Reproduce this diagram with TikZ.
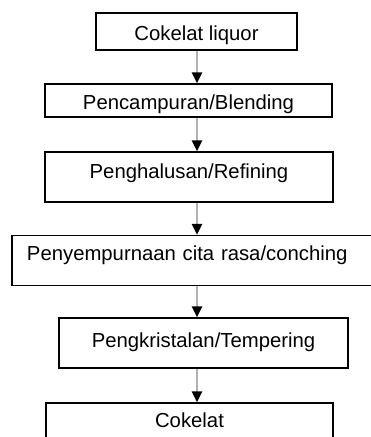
\documentclass[tikz,border=0pt]{standalone}
\usepackage{fontspec}
\setmainfont{Liberation Sans}
\usetikzlibrary{arrows.meta}
\begin{document}
\begin{tikzpicture}[x=1pt, y=-1pt,
    stepbox/.style={draw=black, line width=1.3pt, inner sep=0pt,
      font=\fontsize{20.3}{24}\selectfont, text height=14.5pt, text depth=0pt},
    flow/.style={draw=black!30, line width=2.5pt,
      -{Triangle[width=10pt, length=11pt, color=black]}}]
      \clip (0,0) rectangle (371,437);
      \coordinate (axis) at (197,0);
      \node[stepbox, minimum width=201pt, minimum height=37pt, text height=18.5pt]
        (liquor) at (196.5,31.5) {Cokelat liquor};
      \node[stepbox, minimum width=287pt, minimum height=33pt, text height=18.5pt]
        (blending) at (188.5,100.5) {Pencampuran/Blending};
      \node[stepbox, minimum width=288pt, minimum height=50pt, text depth=12pt]
        (refining) at (189,177) {Penghalusan/Refining};
      \node[stepbox, minimum height=50pt, text depth=15pt, inner xsep=15pt,
        text width=338pt, align=left]
        (conching) at (196,260.5) {Penyempurnaan cita rasa/conching};
      \node[stepbox, minimum width=289pt, minimum height=50pt, text depth=6pt]
        (tempering) at (203.5,343) {Pengkristalan/Tempering};
      \node[stepbox, minimum width=287pt, minimum height=50pt, text depth=15pt]
        (cokelat) at (189.5,428) {Cokelat};
      \draw[flow] (liquor.south -| axis)    -- (blending.north -| axis);
      \draw[flow] (blending.south -| axis)  -- (refining.north -| axis);
      \draw[flow] (refining.south -| axis)  -- (conching.north -| axis);
      \draw[flow] (conching.south -| axis)  -- (tempering.north -| axis);
      \draw[flow] (tempering.south -| axis) -- (cokelat.north -| axis);
    \end{tikzpicture}
\end{document}
